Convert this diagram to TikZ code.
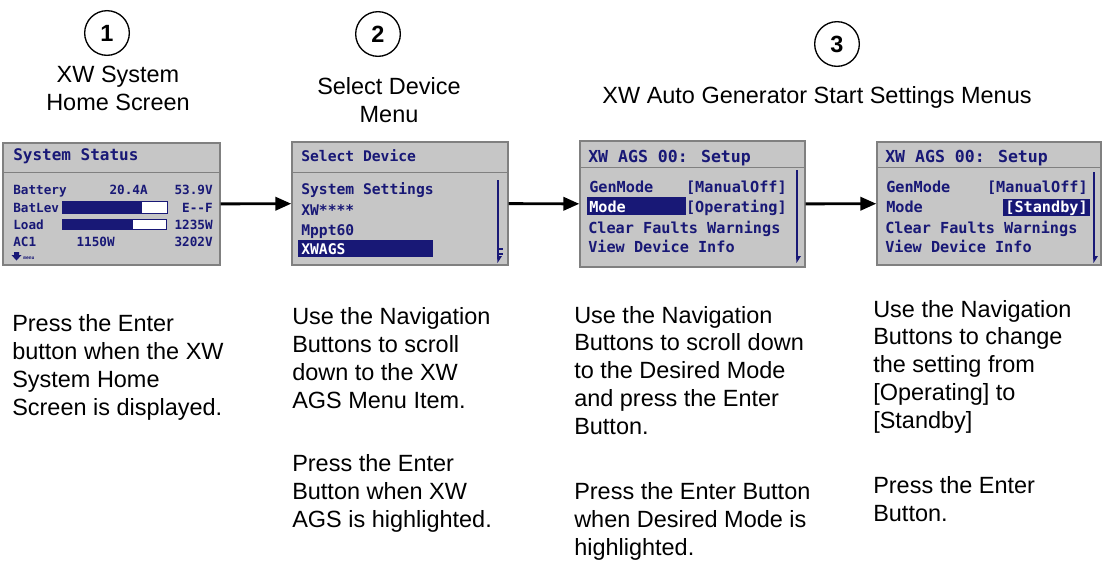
\documentclass[tikz,border=0pt]{standalone}
\usepackage{fontspec}
\setmainfont{Liberation Sans}
\newfontfamily\lcdfont{DejaVu Sans Mono}
\usetikzlibrary{arrows.meta,positioning,calc}

\definecolor{lcdbg}{RGB}{198,198,198}
\definecolor{lcdedge}{RGB}{128,128,128}
\definecolor{lcdink}{RGB}{24,24,118}

\begin{document}
\begin{tikzpicture}[
    x=0.75pt, y=-0.75pt,
    font=\fontsize{17.6}{20.8}\selectfont,
    screen/.style={draw=lcdedge, fill=lcdbg, line width=1.1pt, inner sep=0pt},
    heading/.style={align=center, anchor=base},
    note/.style={align=left, anchor=base west, inner sep=0pt},
    badge/.style={circle, draw, line width=1pt, minimum size=33.5pt, inner sep=0pt, font=\fontsize{17.6}{20}\selectfont\bfseries},
    lcd/.style={text=lcdink, inner sep=0pt, anchor=base west, font=\lcdfont\bfseries\fontsize{#1}{#1}\selectfont},
    lcdr/.style={lcd=#1, anchor=base east},
    lcdinv/.style={lcd=#1, text=white},
    sep/.style={draw=lcdedge, line width=1.1pt},
    scroll/.style={draw=lcdink, line width=1.2pt},
    flow/.style={-{Triangle[length=12pt,width=10pt]}, line width=2.2pt}
]
    \useasboundingbox (0,0) rectangle (1102,561);

    % step numbers and headings (base = last line)
    \node[badge] (n1) at (107,33) {1};
    \node[badge] (n2) at (378,34) {2};
    \node[badge] (n3) at (837,44) {3};
    \node[heading] (hd1) at (118,110) {XW System\\Home Screen};
    \node[heading] (hd2) at (389,122) {Select Device\\Menu};
    \node[heading] (hd3) at (817,103) {XW Auto Generator Start Settings Menus};

    % the four screens
    \node[screen, minimum width=162.75pt, minimum height=91.5pt] (home) at (111.5,204) {};
    \node[screen, minimum width=162pt, minimum height=92.25pt] (select) at (400,203.5) {};
    \node[screen, minimum width=168.75pt, minimum height=94.5pt] (agsmode) at (692.5,204) {};
    \node[screen, minimum width=168pt, minimum height=92.25pt] (agsstby) at (989,203.5) {};
    \draw[sep] ($(home.north west)+(0,30)$) -- ($(home.north east)+(0,30)$);
    \draw[sep] ($(select.north west)+(0,31)$) -- ($(select.north east)+(0,31)$);
    \draw[sep] ($(agsmode.north west)+(0,27)$) -- ($(agsmode.north east)+(0,27)$);
    \draw[sep] ($(agsstby.north west)+(0,26)$) -- ($(agsstby.north east)+(0,26)$);

    % home screen
    \node[lcd=12] (hometitle) at (13,160) {System Status};
    \node[lcd=9.5] (batlabel) at (13,194) {Battery};
    \node[lcdr=9.5] (batamp) at (148,194) {20.4A};
    \node[lcdr=9.5] (batvolt) at (213,194) {53.9V};
    \node[lcd=9.5] (levlabel) at (13,212) {BatLev};
    \draw[lcdink, fill=white, line width=0.6pt] (62,201) rectangle (167,213);
    \fill[lcdink] (62,201) rectangle (142,213);
    \node[lcdr=9.5] (levval) at (213,212) {E--F};
    \node[lcd=9.5] (loadlabel) at (13,229) {Load};
    \draw[lcdink, fill=white, line width=0.6pt] (62,219) rectangle (166,229);
    \fill[lcdink] (62,219) rectangle (133,229);
    \node[lcdr=9.5] (loadval) at (213,229) {1235W};
    \node[lcd=9.5] (aclabel) at (13,246) {AC1};
    \node[lcdr=9.5] (acpower) at (115,246) {1150W};
    \node[lcdr=9.5] (acvolt) at (213,246) {3202V};
    \fill[lcdink] (14,252) -- (19,252) -- (19,255) -- (21.5,255) -- (16.5,260.5) -- (11.5,255) -- (14,255) -- cycle;
    \node[lcd=3.5] (menuhint) at (23,259) {menu};

    % select device
    \node[lcd=11] (seltitle) at (301,161) {Select Device};
    \node[lcd=11] (selsys) at (301,194) {System Settings};
    \node[lcd=11] (selxw) at (301,215) {XW****};
    \node[lcd=11] (selmppt) at (301,235) {Mppt60};
    \fill[lcdink] (298,240) rectangle (433,257);
    \node[lcdinv=11] (selags) at (301,254) {XWAGS};
    \draw[scroll] (498,180) -- (498,257);
    \draw[lcdink, line width=0.8pt] (498,249) -- (503,249) (498,254) -- (503,254);
    \fill[lcdink] (497,256) -- (502,256) -- (497.5,263) -- cycle;

    % AGS setup, mode selected
    \node[lcd=12.4] (modetitle) at (588,162) {XW AGS 00: Setup};
    \node[lcd=11.4] (modegen) at (589,192) {GenMode};
    \node[lcdr=11.4] (modegenval) at (787,192) {[ManualOff]};
    \fill[lcdink] (587,197) rectangle (686,215);
    \node[lcdinv=11.4] (modemode) at (589,212) {Mode};
    \node[lcdr=11.4] (modemodeval) at (787,212) {[Operating]};
    \node[lcd=11.4] (modeclear) at (588,233) {Clear Faults Warnings};
    \node[lcd=11.4] (modeview) at (588,252) {View Device Info};
    \draw[scroll] (797,170) -- (797,258);
    \fill[lcdink] (796,256) -- (801,256) -- (796.5,263) -- cycle;

    % AGS setup, standby chosen
    \node[lcd=12.4] (stbytitle) at (885,162) {XW AGS 00: Setup};
    \node[lcd=11.4] (stbygen) at (886,192) {GenMode};
    \node[lcdr=11.4] (stbygenval) at (1088,192) {[ManualOff]};
    \node[lcd=11.4] (stbymode) at (886,212) {Mode};
    \fill[lcdink] (1003,199) rectangle (1090,216);
    \node[lcdinv=11.4, anchor=base east] (stbymodeval) at (1088,212) {[Standby]};
    \node[lcd=11.4] (stbyclear) at (885,233) {Clear Faults Warnings};
    \node[lcd=11.4] (stbyview) at (885,252) {View Device Info};
    \draw[scroll] (1094,172) -- (1094,258);
    \fill[lcdink] (1093,256) -- (1098,256) -- (1093.5,263) -- cycle;

    \draw[flow] (home) -- (select);
    \draw[flow] (select) -- (agsmode);
    \draw[flow] (agsmode) -- (agsstby);

    % instructions (placed by their last line)
    \node[note] (t1) at (12,415) {Press the Enter\\button when the XW\\System Home\\Screen is displayed.};
    \node[note] (t2a) at (292,408) {Use the Navigation\\Buttons to scroll\\down to the XW\\AGS Menu Item.};
    \node[note] (t2b) at (292,527) {Press the Enter\\Button when XW\\AGS is highlighted.};
    \node[note] (t3a) at (574,434) {Use the Navigation\\Buttons to scroll down\\to the Desired Mode\\and press the Enter\\Button.};
    \node[note] (t3b) at (574,555) {Press the Enter Button\\when Desired Mode is\\highlighted.};
    \node[note] (t4a) at (873,428) {Use the Navigation\\Buttons to change\\the setting from\\{[Operating]} to\\{[Standby]}};
    \node[note] (t4b) at (873,521) {Press the Enter\\Button.};
\end{tikzpicture}
\end{document}
